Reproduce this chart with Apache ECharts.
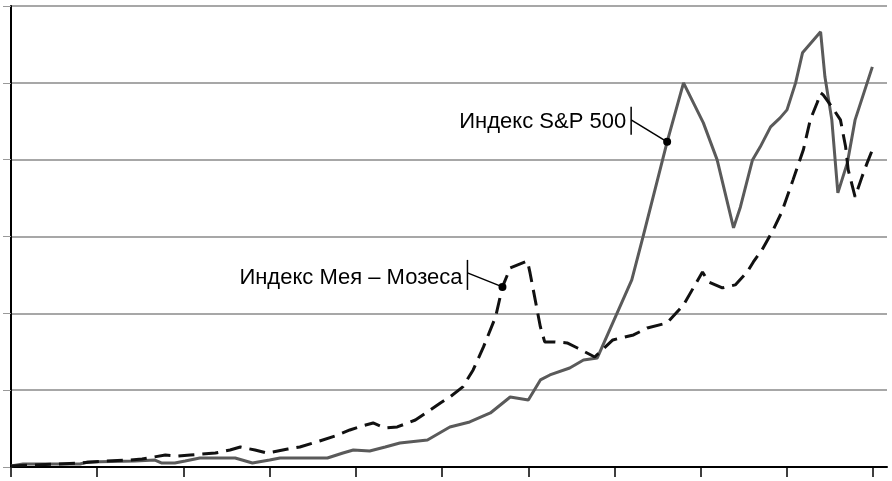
<!DOCTYPE html>
<html>
<head>
<meta charset="utf-8">
<script src="https://cdn.jsdelivr.net/npm/echarts@6/dist/echarts.min.js"></script>
<style>
html,body{margin:0;padding:0;background:#fff;}
#chart{width:892px;height:481px;}
</style>
</head>
<body>
<div id="chart"></div>
<script>
// S&P 500 index (solid) — x position on 0..100 scale, value on 0..600 scale
const spX = [0, 1.4, 8.0, 8.9, 14.4, 16.7, 17.5, 19.0, 20.2, 21.9, 26.0, 28.0, 30.0, 31.2, 36.7, 38.5, 39.7, 41.6, 43.4, 45.1, 48.3, 50.9, 53.2, 55.6, 57.9, 60.0, 61.4, 62.5, 64.8, 66.4, 68.0, 72.0, 73.3, 76.1, 78.0, 80.3, 81.9, 83.8, 84.6, 86.0, 86.9, 88.1, 89.2, 90.0, 91.0, 91.8, 93.9, 94.4, 95.2, 95.9, 97.0, 97.9, 99.9];
const spY = [1.3, 3.9, 3.9, 6.5, 7.8, 9.1, 5.2, 5.2, 7.8, 11.7, 11.7, 5.2, 9.1, 11.7, 11.7, 18.2, 22.1, 20.8, 26.0, 31.3, 35.2, 52.1, 58.6, 70.3, 91.1, 87.2, 113.3, 119.8, 128.9, 139.3, 141.9, 243.5, 299.5, 423.2, 500.0, 447.9, 399.7, 311.2, 338.5, 399.7, 416.7, 442.7, 454.4, 464.8, 500.0, 539.1, 566.4, 507.8, 451.8, 356.8, 395.8, 451.8, 520.8];
// Mei–Moses index (dashed)
const mmX = [0, 8.0, 10.9, 13.8, 15.2, 17.9, 19.4, 20.8, 23.7, 25.4, 26.6, 28.3, 29.7, 32.1, 33.5, 35.8, 37.6, 39.3, 40.7, 42.0, 43.4, 44.8, 46.9, 48.3, 49.8, 50.9, 52.4, 53.6, 54.8, 56.2, 57.0, 57.9, 59.9, 60.2, 61.4, 61.9, 63.1, 64.5, 65.7, 67.7, 69.8, 72.2, 73.8, 76.1, 78.0, 80.2, 80.9, 82.5, 84.0, 85.4, 86.1, 87.1, 88.4, 89.4, 90.7, 91.9, 92.7, 93.5, 93.9, 94.2, 95.2, 96.2, 96.8, 97.1, 97.9, 98.7, 99.3, 99.9];
const mmY = [1.3, 5.2, 7.8, 9.1, 10.4, 15.6, 14.3, 15.6, 18.2, 22.1, 26.0, 22.1, 18.2, 23.4, 26.0, 33.9, 40.4, 48.2, 53.4, 57.3, 50.8, 52.1, 61.2, 71.6, 83.3, 91.1, 104.2, 126.3, 156.3, 195.3, 234.4, 259.1, 268.2, 252.6, 182.3, 162.8, 162.8, 161.5, 154.9, 143.2, 165.4, 171.9, 181.0, 187.5, 210.9, 253.9, 240.9, 233.1, 237.0, 253.9, 266.9, 282.6, 308.6, 332.0, 373.7, 412.8, 451.8, 474.0, 487.0, 484.4, 468.8, 451.8, 416.7, 386.7, 351.6, 377.6, 395.8, 412.8];
const xTicks = [0, 10, 20, 30, 40, 50, 60, 70, 80, 90, 100];
const spLabel = 'Индекс S&P 500';
const mmLabel = 'Индекс Мея – Мозеса';
const spMarkIndex = 33;
const mmMarkIndex = 30;

const zip = (xs, ys) => xs.map((x, i) => [x, ys[i]]);

const chart = echarts.init(document.getElementById('chart'), null, {renderer: 'canvas'});
const option = {
  backgroundColor: '#ffffff',
  animation: false,
  grid: {left: 11, right: 5, top: 6, bottom: 14},
  xAxis: {
    type: 'value', min: 0, max: 101.6,
    axisLine: {show: true, onZero: false, lineStyle: {color: '#000', width: 2}},
    axisTick: {show: true, customValues: xTicks, length: 10, lineStyle: {color: '#000', width: 1.5}},
    axisLabel: {show: false},
    splitLine: {show: false}
  },
  yAxis: {
    type: 'value', min: 0, max: 600, interval: 100,
    axisLine: {show: true, lineStyle: {color: '#000', width: 2}},
    axisTick: {show: true, length: 8, lineStyle: {color: '#999', width: 1}},
    axisLabel: {show: false},
    splitLine: {show: true, lineStyle: {color: '#8a8a8a', width: 1.5}}
  },
  series: [
    {
      name: mmLabel, type: 'line', data: zip(mmX, mmY), showSymbol: false, symbol: 'none',
      lineStyle: {color: '#111', width: 3, type: [16, 8]},
      markPoint: {
        symbol: 'circle', symbolSize: 8, itemStyle: {color: '#000'}, label: {show: false},
        data: [{coord: [mmX[mmMarkIndex], mmY[mmMarkIndex]]}]
      },
      z: 3
    },
    {
      name: spLabel, type: 'line', data: zip(spX, spY), showSymbol: false, symbol: 'none',
      lineStyle: {color: '#5a5a5a', width: 3},
      markPoint: {
        symbol: 'circle', symbolSize: 8, itemStyle: {color: '#000'}, label: {show: false},
        data: [{coord: [spX[spMarkIndex], spY[spMarkIndex]]}]
      },
      z: 2
    }
  ]
};
chart.setOption(option);

function annotation(pt, text, o) {
  const barX = pt[0] - o.dx;
  return [
    {type: 'line', shape: {x1: barX, y1: pt[1] - o.barTop, x2: barX, y2: pt[1] - o.barBottom}, style: {stroke: '#000', lineWidth: 1.5}, z: 10},
    {type: 'line', shape: {x1: barX, y1: pt[1] - o.lead, x2: pt[0], y2: pt[1]}, style: {stroke: '#000', lineWidth: 1.5}, z: 10},
    {type: 'text', x: barX - 5, y: pt[1] - o.textMid, style: {text: text, fill: '#000', font: '22px "Liberation Sans", Arial, sans-serif', align: 'right', verticalAlign: 'middle'}, z: 10}
  ];
}
const spPt = chart.convertToPixel({gridIndex: 0}, [spX[spMarkIndex], spY[spMarkIndex]]);
const mmPt = chart.convertToPixel({gridIndex: 0}, [mmX[mmMarkIndex], mmY[mmMarkIndex]]);
chart.setOption({
  graphic: [].concat(
    annotation(spPt, spLabel, {dx: 36, barTop: 35, barBottom: 7, lead: 22, textMid: 20}),
    annotation(mmPt, mmLabel, {dx: 35, barTop: 27, barBottom: -3, lead: 14, textMid: 9})
  )
});
</script>
</body>
</html>
